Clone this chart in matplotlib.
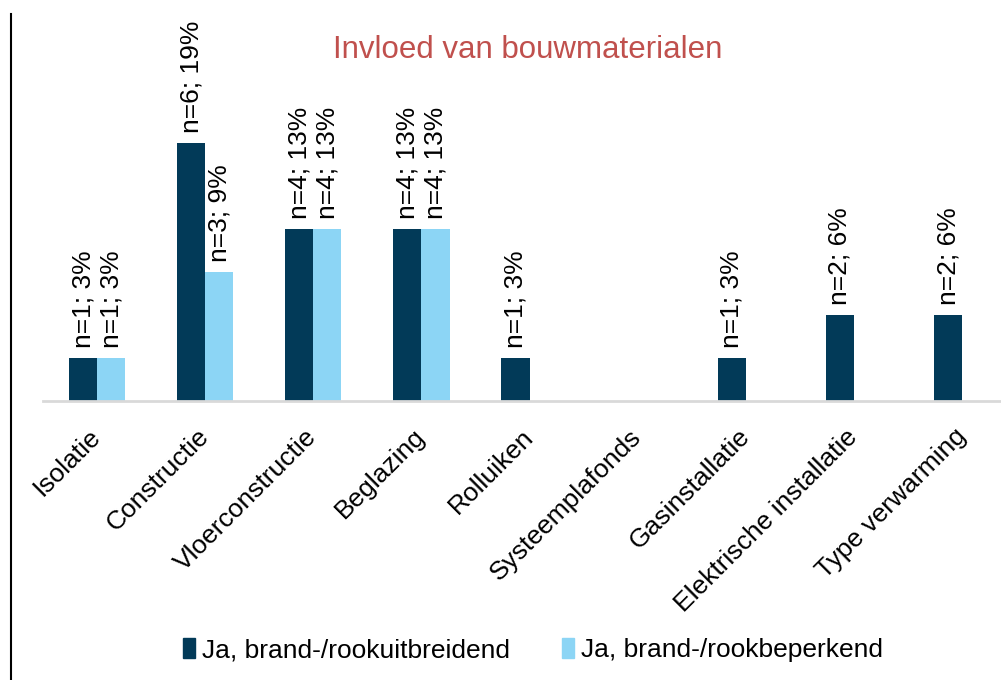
import matplotlib.pyplot as plt
from matplotlib.lines import Line2D
import numpy as np

plt.rcParams['font.family'] = ['Liberation Sans', 'DejaVu Sans']

CATEGORIES = [
    'Isolatie',
    'Constructie',
    'Vloerconstructie',
    'Beglazing',
    'Rolluiken',
    'Systeemplafonds',
    'Gasinstallatie',
    'Elektrische installatie',
    'Type verwarming',
]
# aantal respondenten (n) en percentage per categorie
uitbreidend_n = [1, 6, 4, 4, 1, 0, 1, 2, 2]
uitbreidend_pct = [3, 19, 13, 13, 3, 0, 3, 6, 6]
beperkend_n = [1, 3, 4, 4, 0, 0, 0, 0, 0]
beperkend_pct = [3, 9, 13, 13, 0, 0, 0, 0, 0]

SERIES_NAMES = ['Ja, brand-/rookuitbreidend', 'Ja, brand-/rookbeperkend']
COLORS = ['#023A58', '#8CD5F5']

W, H = 1001, 680
fig = plt.figure(figsize=(W / 100, H / 100), dpi=100)
ax = fig.add_axes([43 / W, (H - 401) / H, 958 / W, 258 / H])

x = np.arange(len(CATEGORIES))
bw = 0.26

series = [
    (uitbreidend_n, uitbreidend_pct, -bw / 2, COLORS[0]),
    (beperkend_n, beperkend_pct, bw / 2, COLORS[1]),
]
for counts, pcts, off, color in series:
    for xi, n, p in zip(x, counts, pcts):
        if n == 0:
            continue
        ax.bar(xi + off, n, width=bw, color=color)
        ax.annotate(f'n={n}; {p}%', (xi + off, n),
                    xytext=(0, 7), textcoords='offset points',
                    rotation=90, ha='center', va='bottom', fontsize=19,
                    color='black', annotation_clip=False)

ax.set_xlim(-0.5, -0.5 + 958 / 108.125)
ax.set_ylim(0, 6)
ax.set_xticks(x)
ax.set_xticklabels(CATEGORIES, rotation=45, ha='right', va='center',
                   rotation_mode='anchor', fontsize=19)
ax.tick_params(axis='x', length=0, pad=23)
ax.set_yticks([])
for s in ['top', 'right', 'left']:
    ax.spines[s].set_visible(False)
ax.spines['bottom'].set_color('#D9D9D9')
ax.spines['bottom'].set_linewidth(2)

fig.text(528 / W, 1 - 50 / H, 'Invloed van bouwmaterialen', ha='center', va='center',
         fontsize=22.5, color='#C0504D')

handles = [plt.Rectangle((0, 0), 1, 1, color=c) for c in COLORS]
fig.legend(handles, SERIES_NAMES, loc='center', bbox_to_anchor=(533 / W, 1 - 650 / H),
           ncol=2, frameon=False, fontsize=19, handlelength=0.45, handleheight=0.8,
           handletextpad=0.25, columnspacing=2.0)

fig.add_artist(Line2D([11 / W, 11 / W], [0, 1 - 14 / H], color='black', linewidth=1.5,
                      transform=fig.transFigure))

fig.savefig('out.png', dpi=100)
